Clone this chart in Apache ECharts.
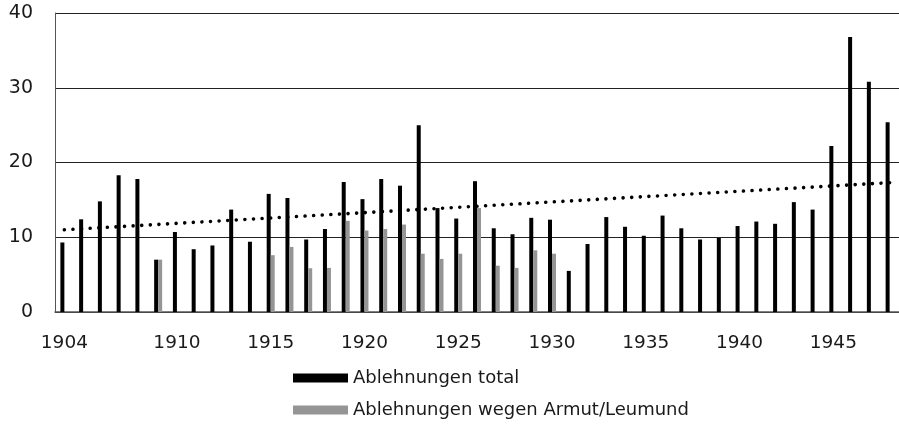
<!DOCTYPE html>
<html>
<head>
<meta charset="utf-8">
<script src="https://cdn.jsdelivr.net/npm/echarts@6/dist/echarts.min.js"></script>
<style>
html,body{margin:0;padding:0;background:#fff;}
#chart{width:899px;height:427px;}
</style>
</head>
<body>
<div id="chart"></div>
<script>
var years = ['1904','1905','1906','1907','1908','1909','1910','1911','1912','1913','1914',
  '1915','1916','1917','1918','1919','1920','1921','1922','1923','1924',
  '1925','1926','1927','1928','1929','1930','1931','1932','1933','1934',
  '1935','1936','1937','1938','1939','1940','1941','1942','1943','1944',
  '1945','1946','1947','1948'];
var total = [9.3, 12.4, 14.8, 18.3, 17.8, 7.0, 10.7, 8.4, 8.9, 13.7, 9.4,
  15.8, 15.25, 9.7, 11.1, 17.4, 15.1, 17.8, 16.9, 25.0, 13.9,
  12.5, 17.5, 11.2, 10.4, 12.6, 12.35, 5.5, 9.1, 12.7, 11.4,
  10.2, 12.9, 11.2, 9.7, 9.9, 11.5, 12.1, 11.8, 14.7, 13.7,
  22.2, 36.8, 30.8, 25.4];
var armut = [null, null, null, null, null, 7.0, null, null, null, null, null,
  7.6, 8.7, 5.85, 5.9, 12.2, 10.9, 11.1, 11.7, 7.8, 7.1,
  7.8, 13.9, 6.2, 5.9, 8.25, 7.8, null, null, null, null,
  null, null, null, null, null, null, null, null, null, null,
  null, null, null, null];
var trendYears = ['1904', '1948'];
var trendValues = [11.0, 17.3];
var xLabelsShown = ['1904','1910','1915','1920','1925','1930','1935','1940','1945'];
var seriesNames = ['Ablehnungen total', 'Ablehnungen wegen Armut/Leumund'];

var FONT = 'DejaVu Sans';
var chart = echarts.init(document.getElementById('chart'), null, {renderer: 'canvas'});
chart.setOption({
  animation: false,
  backgroundColor: '#fff',
  textStyle: {fontFamily: FONT},
  grid: {left: 55, top: 13, bottom: 115, width: 849, containLabel: false},
  legend: {
    orient: 'vertical',
    left: 293,
    top: 368,
    padding: 0,
    itemWidth: 55,
    itemHeight: 9,
    itemGap: 12,
    icon: 'rect',
    data: seriesNames,
    textStyle: {fontFamily: FONT, fontSize: 18, color: '#1a1a1a', lineHeight: 20}
  },
  xAxis: {
    type: 'category',
    data: years,
    boundaryGap: true,
    axisLine: {lineStyle: {color: '#555', width: 1.5}},
    axisTick: {show: false},
    axisLabel: {
      interval: function (i, v) { return xLabelsShown.indexOf(v) >= 0; },
      margin: 22,
      fontFamily: FONT,
      fontSize: 18.5,
      color: '#1a1a1a'
    },
    splitLine: {show: false}
  },
  yAxis: {
    type: 'value',
    min: 0, max: 40, interval: 10,
    axisLine: {show: true, lineStyle: {color: '#555', width: 1}},
    axisTick: {show: false},
    axisLabel: {margin: 22, fontFamily: FONT, fontSize: 19, color: '#1a1a1a'},
    splitLine: {show: true, lineStyle: {color: '#222', width: 1}}
  },
  series: [
    {
      name: seriesNames[0], type: 'bar', data: total,
      barWidth: 4, barGap: '0%',
      itemStyle: {color: '#000'}
    },
    {
      name: seriesNames[1], type: 'bar', data: armut,
      barWidth: 4, barGap: '0%',
      itemStyle: {color: '#959595'}
    },
    {
      name: 'Trend', type: 'line',
      data: trendYears.map(function (y, i) { return [y, trendValues[i]]; }),
      symbol: 'none',
      lineStyle: {color: '#000', width: 3.6, type: [0.01, 8.6], cap: 'round'},
      z: 5
    }
  ]
});
</script>
</body>
</html>
